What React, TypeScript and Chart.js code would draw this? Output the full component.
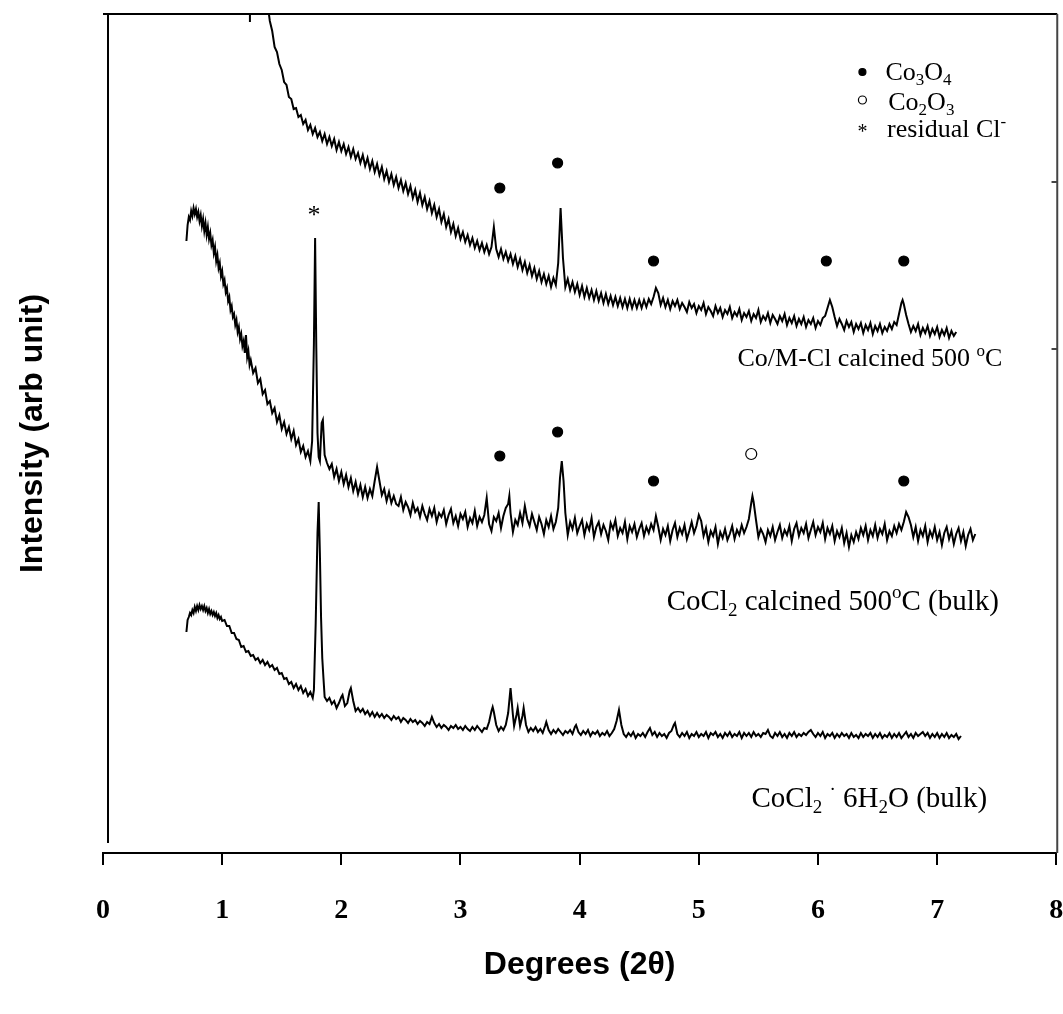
import React, { useEffect, useRef } from 'react';
import { Chart, registerables } from 'chart.js';

Chart.register(...registerables);

// x: degrees (2θ); y: intensity (arbitrary units, curves offset as in the figure)
const xTickValues = [0, 1, 2, 3, 4, 5, 6, 7, 8];

const coMClCalcined: [number, number][] = [
  [1.36,880],[1.38,850],[1.40,832],[1.42,822],[1.44,806],[1.46,801],[1.48,789],[1.50,783],[1.52,771],[1.54,768],
  [1.56,756],[1.58,754],[1.60,744],[1.62,745],[1.64,736],[1.66,738],[1.68,729],[1.70,733],[1.72,723],[1.74,728],
  [1.76,719],[1.78,725],[1.80,716],[1.82,721],[1.84,712],[1.86,719],[1.88,709],[1.90,716],[1.92,707],[1.94,714],
  [1.96,703],[1.98,711],[2.00,702],[2.02,709],[2.04,699],[2.06,706],[2.08,696],[2.10,704],[2.12,694],[2.14,700],
  [2.16,690],[2.18,698],[2.20,687],[2.22,695],[2.24,684],[2.26,692],[2.28,681],[2.30,689],[2.32,678],[2.34,686],
  [2.36,674],[2.38,682],[2.40,671],[2.42,679],[2.44,668],[2.46,676],[2.48,665],[2.50,673],[2.52,662],[2.54,670],
  [2.56,659],[2.58,667],[2.60,655],[2.62,663],[2.64,651],[2.66,660],[2.68,648],[2.70,656],[2.72,644],[2.74,652],
  [2.76,640],[2.78,648],[2.80,636],[2.82,644],[2.84,631],[2.86,639],[2.88,626],[2.90,634],[2.92,621],[2.94,629],
  [2.96,617],[2.98,625],[3.00,614],[3.02,621],[3.04,611],[3.06,618],[3.08,608],[3.10,615],[3.12,605],[3.14,612],
  [3.16,603],[3.18,610],[3.20,601],[3.22,608],[3.24,599],[3.26,606],[3.28,626],[3.30,604],[3.32,596],[3.34,604],
  [3.36,594],[3.38,601],[3.40,592],[3.42,599],[3.44,589],[3.46,597],[3.48,586],[3.50,594],[3.52,583],[3.54,591],
  [3.56,580],[3.58,588],[3.60,577],[3.62,585],[3.64,574],[3.66,582],[3.68,571],[3.70,579],[3.72,569],[3.74,577],
  [3.76,566],[3.78,575],[3.80,568],[3.82,590],[3.84,645],[3.86,595],[3.88,566],[3.90,574],[3.92,563],[3.94,571],
  [3.96,561],[3.98,569],[4.00,558],[4.02,567],[4.04,556],[4.06,565],[4.08,555],[4.10,563],[4.12,553],[4.14,562],
  [4.16,552],[4.18,560],[4.20,550],[4.22,559],[4.24,549],[4.26,557],[4.28,548],[4.30,556],[4.32,547],[4.34,555],
  [4.36,546],[4.38,554],[4.40,545],[4.42,554],[4.44,545],[4.46,553],[4.48,545],[4.50,553],[4.52,545],[4.54,553],
  [4.56,546],[4.58,554],[4.60,549],[4.62,556],[4.64,565],[4.66,560],[4.68,548],[4.70,555],[4.72,546],[4.74,553],
  [4.76,544],[4.78,552],[4.80,547],[4.82,553],[4.84,544],[4.86,550],[4.88,546],[4.90,541],[4.92,551],[4.94,545],
  [4.96,549],[4.98,540],[5.00,547],[5.02,543],[5.04,550],[5.06,539],[5.08,546],[5.10,542],[5.12,537],[5.14,547],
  [5.16,540],[5.18,545],[5.20,536],[5.22,543],[5.24,539],[5.26,546],[5.28,535],[5.30,541],[5.32,537],[5.34,544],
  [5.36,533],[5.38,540],[5.40,536],[5.42,542],[5.44,532],[5.46,539],[5.48,535],[5.50,543],[5.52,531],[5.54,537],
  [5.56,533],[5.58,540],[5.60,530],[5.62,538],[5.64,534],[5.66,529],[5.68,537],[5.70,532],[5.72,539],[5.74,528],
  [5.76,535],[5.78,530],[5.80,537],[5.82,527],[5.84,534],[5.86,529],[5.88,536],[5.90,526],[5.92,533],[5.94,529],
  [5.96,535],[5.98,525],[6.00,532],[6.02,528],[6.04,535],[6.06,537],[6.08,545],[6.10,553],[6.12,546],[6.14,536],
  [6.16,527],[6.18,534],[6.20,529],[6.22,523],[6.24,532],[6.26,526],[6.28,531],[6.30,521],[6.32,529],[6.34,524],
  [6.36,530],[6.38,520],[6.40,528],[6.42,523],[6.44,530],[6.46,519],[6.48,527],[6.50,522],[6.52,529],[6.54,520],
  [6.56,526],[6.58,522],[6.60,529],[6.62,524],[6.64,531],[6.66,528],[6.68,539],[6.70,550],[6.71,553],[6.72,549],
  [6.74,538],[6.76,529],[6.78,521],[6.80,527],[6.82,522],[6.84,529],[6.86,518],[6.88,525],[6.90,520],[6.92,527],
  [6.94,517],[6.96,524],[6.98,519],[7.00,526],[7.02,516],[7.04,523],[7.06,518],[7.08,525],[7.10,515],[7.12,522],
  [7.14,517],[7.16,521],
];

const coCl2Calcined: [number, number][] = [
  [0.70,612],[0.71,628],[0.72,636],[0.73,633],[0.74,642],[0.75,637],[0.76,645],[0.77,639],[0.78,644],[0.79,636],
  [0.80,641],[0.81,632],[0.82,638],[0.83,627],[0.84,634],[0.85,622],[0.86,630],[0.87,618],[0.88,626],[0.89,614],
  [0.90,620],[0.91,608],[0.92,613],[0.93,600],[0.94,606],[0.95,592],[0.96,598],[0.97,585],[0.98,590],[0.99,577],
  [1.00,582],[1.01,569],[1.02,573],[1.03,561],[1.04,565],[1.05,552],[1.06,556],[1.07,543],[1.08,547],[1.09,536],
  [1.10,539],[1.11,528],[1.12,533],[1.13,521],[1.14,526],[1.15,514],[1.16,519],[1.17,507],[1.18,512],[1.19,500],
  [1.20,518],[1.21,496],[1.22,502],[1.23,488],[1.24,493],[1.26,480],[1.28,485],[1.30,470],[1.32,474],[1.34,459],
  [1.36,463],[1.38,449],[1.40,452],[1.42,440],[1.44,445],[1.46,431],[1.48,438],[1.50,424],[1.52,431],[1.54,419],
  [1.56,426],[1.58,414],[1.60,422],[1.62,408],[1.64,414],[1.66,401],[1.68,407],[1.70,396],[1.72,402],[1.74,392],
  [1.755,412],[1.77,510],[1.78,615],[1.79,505],[1.80,420],[1.81,396],[1.82,392],[1.835,430],[1.845,433],[1.86,398],
  [1.88,390],[1.90,384],[1.92,389],[1.94,376],[1.96,384],[1.98,372],[2.00,381],[2.02,369],[2.04,378],[2.06,366],
  [2.08,375],[2.10,362],[2.12,371],[2.14,359],[2.16,368],[2.18,356],[2.20,366],[2.22,355],[2.24,364],[2.26,357],
  [2.28,372],[2.30,386],[2.32,372],[2.34,358],[2.36,364],[2.38,352],[2.40,361],[2.42,350],[2.44,357],[2.46,349],
  [2.48,347],[2.50,356],[2.52,343],[2.54,351],[2.56,346],[2.58,338],[2.60,350],[2.62,341],[2.64,345],[2.66,336],
  [2.68,347],[2.70,339],[2.72,333],[2.74,344],[2.76,337],[2.78,345],[2.80,331],[2.82,340],[2.84,336],[2.86,343],
  [2.88,329],[2.90,338],[2.92,344],[2.94,330],[2.96,337],[2.98,327],[3.00,339],[3.02,334],[3.04,341],[3.06,326],
  [3.08,335],[3.10,330],[3.12,342],[3.14,327],[3.16,336],[3.18,331],[3.20,338],[3.22,355],[3.24,329],[3.26,322],
  [3.28,336],[3.30,332],[3.32,340],[3.34,325],[3.36,337],[3.38,345],[3.40,349],[3.41,357],[3.42,340],[3.44,321],
  [3.46,333],[3.48,328],[3.50,340],[3.52,330],[3.54,347],[3.56,334],[3.58,327],[3.60,339],[3.62,331],[3.64,323],
  [3.66,336],[3.68,329],[3.70,319],[3.72,333],[3.74,326],[3.76,337],[3.78,324],[3.80,331],[3.82,345],[3.835,375],
  [3.85,392],[3.865,372],[3.88,340],[3.90,318],[3.92,331],[3.94,324],[3.96,335],[3.98,320],[4.00,327],[4.02,333],
  [4.04,318],[4.06,329],[4.08,323],[4.10,335],[4.12,316],[4.14,326],[4.16,331],[4.18,319],[4.20,328],[4.22,322],
  [4.24,313],[4.26,330],[4.28,324],[4.30,333],[4.32,317],[4.34,325],[4.36,320],[4.38,331],[4.40,314],[4.42,327],
  [4.44,321],[4.46,329],[4.48,316],[4.50,324],[4.52,330],[4.54,317],[4.56,326],[4.58,320],[4.60,329],[4.62,323],
  [4.64,337],[4.66,326],[4.68,313],[4.70,324],[4.72,318],[4.74,327],[4.76,312],[4.78,323],[4.80,330],[4.82,316],
  [4.84,325],[4.86,319],[4.88,328],[4.90,314],[4.92,322],[4.94,331],[4.96,320],[4.98,327],[5.00,338],[5.02,332],
  [5.04,317],[5.06,325],[5.08,311],[5.10,322],[5.12,317],[5.14,326],[5.16,309],[5.18,321],[5.20,315],[5.22,324],
  [5.24,313],[5.26,319],[5.28,327],[5.30,314],[5.32,323],[5.34,318],[5.36,328],[5.38,320],[5.40,326],[5.42,334],
  [5.44,350],[5.45,357],[5.46,351],[5.48,333],[5.50,316],[5.52,324],[5.54,319],[5.56,311],[5.58,323],[5.60,317],
  [5.62,326],[5.64,313],[5.66,321],[5.68,328],[5.70,315],[5.72,323],[5.74,318],[5.76,327],[5.78,312],[5.80,324],
  [5.82,330],[5.84,317],[5.86,325],[5.88,320],[5.90,329],[5.92,315],[5.94,323],[5.96,331],[5.98,318],[6.00,326],
  [6.02,321],[6.04,330],[6.06,314],[6.08,325],[6.10,319],[6.12,327],[6.14,312],[6.16,322],[6.18,316],[6.20,325],
  [6.22,310],[6.24,320],[6.26,306],[6.28,318],[6.30,311],[6.32,321],[6.34,314],[6.36,325],[6.38,318],[6.40,327],
  [6.42,313],[6.44,323],[6.46,317],[6.48,328],[6.50,315],[6.52,324],[6.54,319],[6.56,329],[6.58,313],[6.60,322],
  [6.62,317],[6.64,327],[6.66,320],[6.68,329],[6.70,323],[6.72,331],[6.74,341],[6.76,336],[6.78,328],[6.80,316],
  [6.82,326],[6.84,312],[6.86,323],[6.88,317],[6.90,327],[6.92,311],[6.94,322],[6.96,316],[6.98,326],[7.00,313],
  [7.02,321],[7.04,308],[7.06,320],[7.08,326],[7.10,314],[7.12,322],[7.14,309],[7.16,319],[7.18,325],[7.20,312],
  [7.22,321],[7.24,307],[7.26,318],[7.28,324],[7.30,313],[7.32,319],
];

const coCl2Hexahydrate: [number, number][] = [
  [0.70,221],[0.71,233],[0.72,236],[0.73,240],[0.74,238],[0.75,243],[0.76,240],[0.77,246],[0.78,242],[0.79,247],
  [0.80,243],[0.81,248],[0.82,244],[0.83,247],[0.84,243],[0.85,247],[0.86,242],[0.87,245],[0.88,240],[0.89,244],
  [0.90,239],[0.91,242],[0.92,238],[0.93,241],[0.94,237],[0.95,240],[0.96,235],[0.97,238],[0.98,234],[0.99,236],
  [1.00,232],[1.02,233],[1.04,227],[1.06,227],[1.08,220],[1.10,220],[1.12,214],[1.14,213],[1.16,206],[1.18,207],
  [1.20,201],[1.22,202],[1.24,197],[1.26,198],[1.28,193],[1.30,195],[1.32,190],[1.34,193],[1.36,188],[1.38,191],
  [1.40,186],[1.42,188],[1.44,183],[1.46,185],[1.48,179],[1.50,180],[1.52,174],[1.54,175],[1.56,169],[1.58,171],
  [1.60,165],[1.62,169],[1.64,163],[1.66,167],[1.68,160],[1.70,164],[1.72,157],[1.74,161],[1.76,155],[1.77,163],
  [1.785,230],[1.80,320],[1.81,351],[1.82,300],[1.83,235],[1.84,195],[1.85,175],[1.86,156],[1.88,152],[1.90,155],
  [1.92,149],[1.94,152],[1.96,145],[1.98,150],[2.00,156],[2.01,158],[2.03,147],[2.05,150],[2.07,162],[2.08,165],
  [2.10,152],[2.12,142],[2.14,145],[2.16,141],[2.18,144],[2.20,139],[2.22,142],[2.24,137],[2.26,141],[2.28,136],
  [2.30,140],[2.32,136],[2.34,139],[2.36,135],[2.38,138],[2.40,136],[2.42,133],[2.44,137],[2.46,134],[2.48,136],
  [2.50,131],[2.52,135],[2.54,133],[2.56,130],[2.58,134],[2.60,131],[2.62,133],[2.64,129],[2.66,132],[2.68,130],
  [2.70,127],[2.72,131],[2.74,129],[2.76,136],[2.78,130],[2.80,126],[2.82,129],[2.84,125],[2.86,128],[2.88,126],
  [2.90,123],[2.92,127],[2.94,125],[2.96,128],[2.98,124],[3.00,126],[3.02,123],[3.04,127],[3.06,124],[3.08,122],
  [3.10,126],[3.12,123],[3.14,127],[3.16,124],[3.18,121],[3.20,125],[3.22,124],[3.24,131],[3.26,142],[3.27,146],
  [3.28,141],[3.30,128],[3.32,122],[3.34,126],[3.36,123],[3.38,128],[3.40,140],[3.42,165],[3.44,138],[3.45,127],
  [3.47,138],[3.48,145],[3.50,127],[3.52,137],[3.53,145],[3.55,128],[3.57,121],[3.59,125],[3.61,122],[3.63,126],
  [3.65,121],[3.67,124],[3.69,120],[3.71,127],[3.72,131],[3.74,123],[3.76,119],[3.78,123],[3.80,120],[3.82,124],
  [3.84,121],[3.86,118],[3.88,122],[3.90,120],[3.92,123],[3.94,119],[3.96,126],[3.97,128],[3.99,121],[4.01,118],
  [4.03,122],[4.05,119],[4.07,123],[4.09,117],[4.11,121],[4.13,119],[4.15,122],[4.17,117],[4.19,120],[4.21,118],
  [4.23,122],[4.25,117],[4.27,120],[4.29,124],[4.31,132],[4.33,143],[4.35,128],[4.37,119],[4.39,116],[4.41,120],
  [4.43,117],[4.45,121],[4.47,115],[4.49,119],[4.51,117],[4.53,120],[4.55,116],[4.57,121],[4.59,125],[4.61,118],
  [4.63,121],[4.65,116],[4.67,120],[4.69,117],[4.71,119],[4.73,115],[4.75,120],[4.77,122],[4.79,128],[4.80,130],
  [4.82,119],[4.84,116],[4.86,120],[4.88,117],[4.90,121],[4.92,115],[4.94,119],[4.96,117],[4.98,121],[5.00,116],
  [5.02,119],[5.04,117],[5.06,121],[5.08,115],[5.10,120],[5.12,118],[5.14,121],[5.16,116],[5.18,119],[5.20,115],
  [5.22,120],[5.24,117],[5.26,121],[5.28,116],[5.30,119],[5.32,117],[5.34,121],[5.36,115],[5.38,120],[5.40,117],
  [5.42,120],[5.44,116],[5.46,121],[5.48,117],[5.50,119],[5.52,116],[5.54,120],[5.56,119],[5.58,123],[5.60,117],
  [5.62,115],[5.64,120],[5.66,117],[5.68,121],[5.70,116],[5.72,119],[5.74,115],[5.76,120],[5.78,117],[5.80,121],
  [5.82,116],[5.84,119],[5.86,117],[5.88,120],[5.90,118],[5.92,121],[5.94,123],[5.96,119],[5.98,116],[6.00,120],
  [6.02,117],[6.04,121],[6.06,115],[6.08,119],[6.10,117],[6.12,120],[6.14,115],[6.16,119],[6.18,116],[6.20,120],
  [6.22,117],[6.24,119],[6.26,115],[6.28,120],[6.30,116],[6.32,118],[6.34,115],[6.36,120],[6.38,116],[6.40,119],
  [6.42,117],[6.44,120],[6.46,115],[6.48,119],[6.50,116],[6.52,120],[6.54,115],[6.56,118],[6.58,116],[6.60,120],
  [6.62,115],[6.64,119],[6.66,116],[6.68,120],[6.70,115],[6.72,118],[6.74,121],[6.76,116],[6.78,119],[6.80,115],
  [6.82,120],[6.84,117],[6.86,119],[6.88,121],[6.90,117],[6.92,120],[6.94,115],[6.96,119],[6.98,116],[7.00,120],
  [7.02,115],[7.04,119],[7.06,116],[7.08,120],[7.10,115],[7.12,118],[7.14,116],[7.16,119],[7.18,114],[7.20,117],
];

// peak markers
const co3o4MarksTop: [number, number][] = [[3.33,665],[3.815,690],[4.62,592],[6.07,592],[6.72,592]];
const co3o4MarksMid: [number, number][] = [[3.33,397],[3.815,421],[4.62,372],[6.72,372]];
const co2o3Marks: [number, number][] = [[5.44,399]];
const chlorideMarks: [number, number][] = [[1.77,643]];
const legendFilledKey: [number, number][] = [[6.373,781]];
const legendOpenKey: [number, number][] = [[6.373,753]];
const legendStarKey: [number, number][] = [[6.373,725]];

type Run = [string, 'n' | 'sub' | 'sup'];
type TextItem = { x: number; y: number; align: 'left' | 'right'; size: number; runs: Run[] };

const curveLabels: TextItem[] = [
  { x: 7.547, y: 487, align: 'right', size: 26, runs: [['Co/M-Cl calcined 500 ', 'n'], ['o', 'sup'], ['C', 'n']] },
  { x: 4.73, y: 243, align: 'left', size: 29, runs: [['CoCl', 'n'], ['2', 'sub'], [' calcined 500', 'n'], ['o', 'sup'], ['C (bulk)', 'n']] },
  { x: 5.442, y: 46, align: 'left', size: 29, runs: [['CoCl', 'n'], ['2', 'sub'], [' ', 'n'], ['·', 'sup'], [' 6H', 'n'], ['2', 'sub'], ['O (bulk)', 'n']] },
];
const legendLabels: TextItem[] = [
  { x: 6.566, y: 773, align: 'left', size: 26, runs: [['Co', 'n'], ['3', 'sub'], ['O', 'n'], ['4', 'sub']] },
  { x: 6.59, y: 743, align: 'left', size: 26, runs: [['Co', 'n'], ['2', 'sub'], ['O', 'n'], ['3', 'sub']] },
  { x: 6.58, y: 716, align: 'left', size: 26, runs: [['residual Cl', 'n'], ['-', 'sup']] },
];

const SERIF = '"Liberation Serif", "Times New Roman", serif';
const SANS = '"Liberation Sans", Arial, sans-serif';

function drawRuns(ctx: CanvasRenderingContext2D, item: TextItem, px: number, py: number) {
  const big = `${item.size}px ${SERIF}`;
  const small = `${Math.round(item.size * 0.66)}px ${SERIF}`;
  let total = 0;
  const widths: number[] = [];
  for (const [t, k] of item.runs) {
    ctx.font = k === 'n' ? big : small;
    const w = ctx.measureText(t).width;
    widths.push(w);
    total += w;
  }
  let cx = item.align === 'right' ? px - total : px;
  ctx.textAlign = 'left';
  ctx.textBaseline = 'alphabetic';
  ctx.fillStyle = '#000';
  item.runs.forEach(([t, k], i) => {
    ctx.font = k === 'n' ? big : small;
    const dy = k === 'sub' ? item.size * 0.2 : k === 'sup' ? -item.size * 0.4 : 0;
    ctx.fillText(t, cx, py + dy);
    cx += widths[i];
  });
}

export default function App() {
  const ref = useRef<HTMLCanvasElement>(null);
  useEffect(() => {
    const canvas = ref.current;
    if (!canvas) return;
    const toXY = (arr: [number, number][]) => arr.map(([x, y]) => ({ x, y }));
    const lineDs = (label: string, arr: [number, number][]) => ({
      label, data: toXY(arr), borderColor: '#000', borderWidth: 2, pointRadius: 0,
      tension: 0, fill: false, showLine: true,
    });
    const markDs = (label: string, arr: [number, number][], filled: boolean, r: number) => ({
      label, data: toXY(arr), showLine: false, pointRadius: r, pointHoverRadius: r, pointStyle: 'circle',
      backgroundColor: filled ? '#000' : '#fff', borderColor: '#000', borderWidth: 1.2,
    });

    const annotations = {
      id: 'annotations',
      afterDraw(chart: any) {
        const { ctx } = chart;
        const xs = chart.scales.x;
        const ys = chart.scales.y;
        const X = (v: number) => xs.getPixelForValue(v);
        const Y = (v: number) => ys.getPixelForValue(v);
        ctx.save();
        // frame
        ctx.strokeStyle = '#000';
        ctx.lineWidth = 2;
        ctx.beginPath();
        ctx.moveTo(X(0), Y(839)); ctx.lineTo(X(8.008), Y(839));
        ctx.moveTo(X(0.042), Y(839)); ctx.lineTo(X(0.042), Y(10));
        ctx.moveTo(X(1.233), Y(839)); ctx.lineTo(X(1.233), Y(831));
        ctx.stroke();
        ctx.strokeStyle = '#444';
        ctx.beginPath();
        ctx.moveTo(X(8.008), Y(839)); ctx.lineTo(X(8.008), Y(0));
        ctx.moveTo(X(8.008), Y(671)); ctx.lineTo(X(7.96), Y(671));
        ctx.moveTo(X(8.008), Y(504)); ctx.lineTo(X(7.96), Y(504));
        ctx.stroke();
        // asterisks
        ctx.fillStyle = '#000';
        ctx.textAlign = 'center';
        ctx.textBaseline = 'alphabetic';
        ctx.font = `26px ${SERIF}`;
        for (const [x, y] of chlorideMarks) ctx.fillText('*', X(x), Y(y) + 13);
        ctx.font = `20px ${SERIF}`;
        for (const [x, y] of legendStarKey) ctx.fillText('*', X(x), Y(y) + 10);
        for (const item of curveLabels) drawRuns(ctx, item, X(item.x), Y(item.y));
        for (const item of legendLabels) drawRuns(ctx, item, X(item.x), Y(item.y));
        ctx.restore();
      },
    };

    const chart = new Chart(canvas, {
      type: 'line',
      data: {
        datasets: [
          lineDs('Co/M-Cl calcined 500 °C', coMClCalcined),
          lineDs('CoCl2 calcined 500°C (bulk)', coCl2Calcined),
          lineDs('CoCl2·6H2O (bulk)', coCl2Hexahydrate),
          markDs('Co3O4 (top)', co3o4MarksTop, true, 5),
          markDs('Co3O4 (middle)', co3o4MarksMid, true, 5),
          markDs('Co2O3', co2o3Marks, false, 5.5),
          markDs('legend Co3O4', legendFilledKey, true, 3.5),
          markDs('legend Co2O3', legendOpenKey, false, 4),
        ] as any,
      },
      options: {
        animation: false,
        responsive: false,
        maintainAspectRatio: false,
        events: [],
        layout: { padding: { top: 14, right: 6, left: 0, bottom: 0 } },
        plugins: { legend: { display: false }, tooltip: { enabled: false } },
        scales: {
          x: {
            type: 'linear',
            min: 0,
            max: 8,
            afterBuildTicks: (s: any) => { s.ticks = xTickValues.map((v) => ({ value: v })); },
            afterFit: (s: any) => { s.height = 161; s.paddingLeft = 0; s.paddingRight = 0; },
            ticks: {
              autoSkip: false, maxRotation: 0, minRotation: 0, padding: 29, color: '#000',
              font: { family: SERIF, size: 28, weight: 'bold' },
            },
            grid: { display: true, drawOnChartArea: false, drawTicks: true, tickLength: 12, color: '#000', lineWidth: 2 },
            border: { display: true, color: '#000', width: 2 },
            title: {
              display: true, text: 'Degrees (2θ)', color: '#000',
              font: { family: SANS, size: 32, weight: 'bold' }, padding: { top: 0, bottom: 30 },
            },
          },
          y: {
            type: 'linear',
            min: 0,
            max: 839,
            afterFit: (s: any) => { s.width = 103; },
            ticks: { display: false },
            grid: { display: false },
            border: { display: false },
            title: {
              display: true, text: 'Intensity (arb unit)', color: '#000',
              font: { family: SANS, size: 32, weight: 'bold' }, padding: { top: 14, bottom: 0 },
            },
          },
        },
      } as any,
      plugins: [annotations],
    });
    return () => chart.destroy();
  }, []);

  return (
    <div style={{ position: 'fixed', left: 0, top: 0, width: 1063, height: 1014, background: '#fff' }}>
      <canvas ref={ref} width={1063} height={1014} style={{ display: 'block', width: 1063, height: 1014 }} />
    </div>
  );
}
